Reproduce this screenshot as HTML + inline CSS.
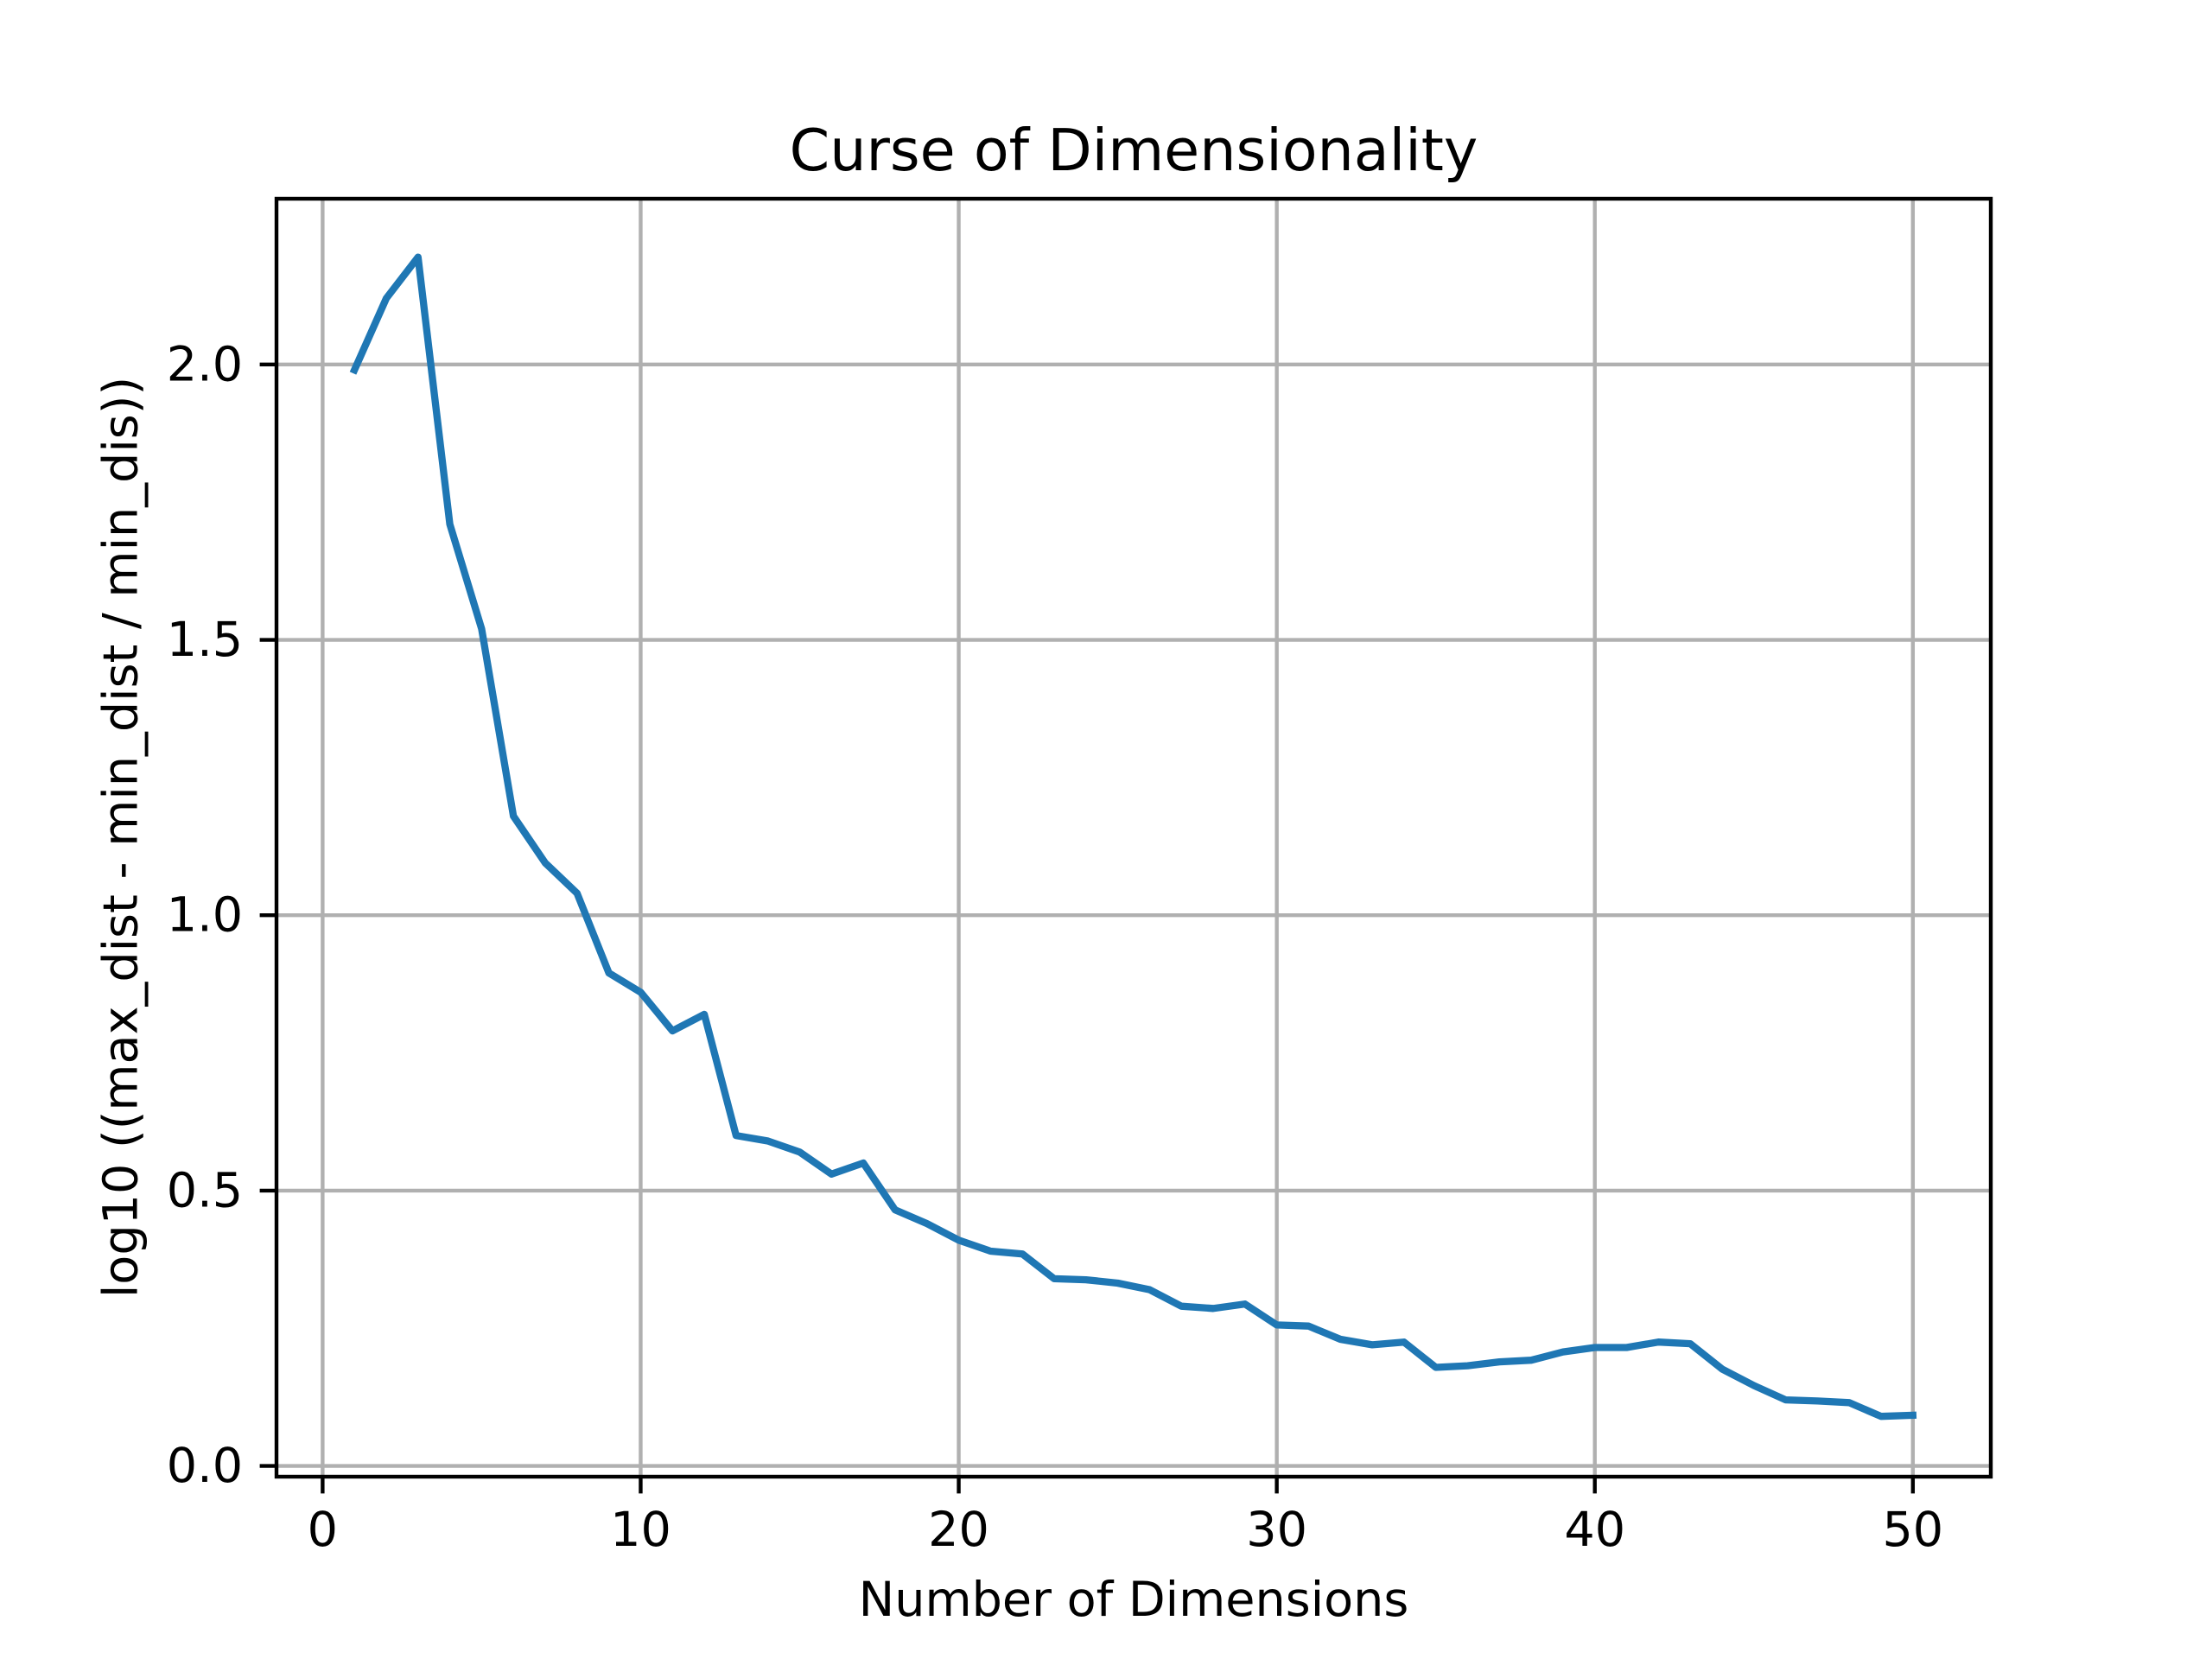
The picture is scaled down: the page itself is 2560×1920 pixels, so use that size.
<!DOCTYPE html>
<html><head><meta charset="utf-8"><style>html,body{margin:0;padding:0;background:#fff}svg{display:block}</style></head>
<body>
<svg id="chart" width="2560" height="1920" viewBox="0 0 2560 1920" xmlns="http://www.w3.org/2000/svg" font-family="'DejaVu Sans','Liberation Sans',sans-serif">
<rect width="2560" height="1920" fill="#fff"/>
<g id="grid"></g>
<g id="series"></g>
<rect x="320" y="230" width="1984" height="1479" fill="none" stroke="#000" stroke-width="4.4"/>
<g id="ticks"></g>
<text x="1312" y="197" font-size="66.7" text-anchor="middle">Curse of Dimensionality</text>
<text x="1312" y="1870" font-size="55.6" text-anchor="middle">Number of Dimensions</text>
<text x="0" y="0" font-size="55.6" text-anchor="middle" dominant-baseline="central" transform="translate(140,969) rotate(-90)">log10 ((max_dist - min_dist / min_dis))</text>
</svg>
<script>
const dims = [1,2,3,4,5,6,7,8,9,10,11,12,13,14,15,16,17,18,19,20,21,22,23,24,25,26,27,28,29,30,31,32,33,34,35,36,37,38,39,40,41,42,43,44,45,46,47,48,49,50];
const values = [1.99,2.12,2.195,1.71,1.52,1.18,1.095,1.04,0.895,0.86,0.79,0.82,0.60,0.59,0.57,0.53,0.55,0.465,0.44,0.41,0.39,0.385,0.34,0.338,0.332,0.32,0.29,0.286,0.294,0.256,0.254,0.23,0.22,0.225,0.179,0.182,0.189,0.192,0.207,0.215,0.215,0.225,0.222,0.176,0.146,0.12,0.118,0.115,0.09,0.092];
const xTicks = [0,10,20,30,40,50];
const yTicks = [0.0,0.5,1.0,1.5,2.0];
const yTickLabels = ["0.0","0.5","1.0","1.5","2.0"];

const L=320,R=2304,T=230,B=1709;
const xmin=-1.45,xmax=52.45,ymin=-0.0195,ymax=2.301;
const sx=v=>L+(v-xmin)/(xmax-xmin)*(R-L);
const sy=v=>B-(v-ymin)/(ymax-ymin)*(B-T);
const NS='http://www.w3.org/2000/svg';
function mk(tag,attrs,parent){const e=document.createElementNS(NS,tag);for(const k in attrs)e.setAttribute(k,attrs[k]);parent.appendChild(e);return e;}
const grid=document.getElementById('grid'),ticks=document.getElementById('ticks'),series=document.getElementById('series');
xTicks.forEach(t=>{
  const x=sx(t);
  const g=mk('line',{x1:x,x2:x,y1:T,y2:B,stroke:'#b0b0b0','stroke-width':4.4},grid);
  
  
  const tk=mk('line',{x1:x,x2:x,y1:B,y2:B+19.4,stroke:'#000','stroke-width':4.4},ticks);
  
  
  const lb=mk('text',{x:x,y:B+19.4+19.4+41,'font-size':55.6,'text-anchor':'middle'},ticks);
  lb.textContent=String(t);
  
  
});
yTicks.forEach((t,i)=>{
  const y=sy(t);
  const g=mk('line',{x1:L,x2:R,y1:y,y2:y,stroke:'#b0b0b0','stroke-width':4.4},grid);
  
  
  const tk=mk('line',{x1:L-19.4,x2:L,y1:y,y2:y,stroke:'#000','stroke-width':4.4},ticks);
  
  
  const lb=mk('text',{x:L-19.4-19.4,y:y,'font-size':55.6,'text-anchor':'end','dominant-baseline':'central'},ticks);
  lb.textContent=yTickLabels[i];
  
  
});
const pts=dims.map((d,i)=>sx(d).toFixed(1)+','+sy(values[i]).toFixed(1)).join(' ');
const line=mk('polyline',{points:pts,fill:'none',stroke:'#1f77b4','stroke-width':8.3,'stroke-linejoin':'round','stroke-linecap':'square'},series);


</script>
</body></html>
